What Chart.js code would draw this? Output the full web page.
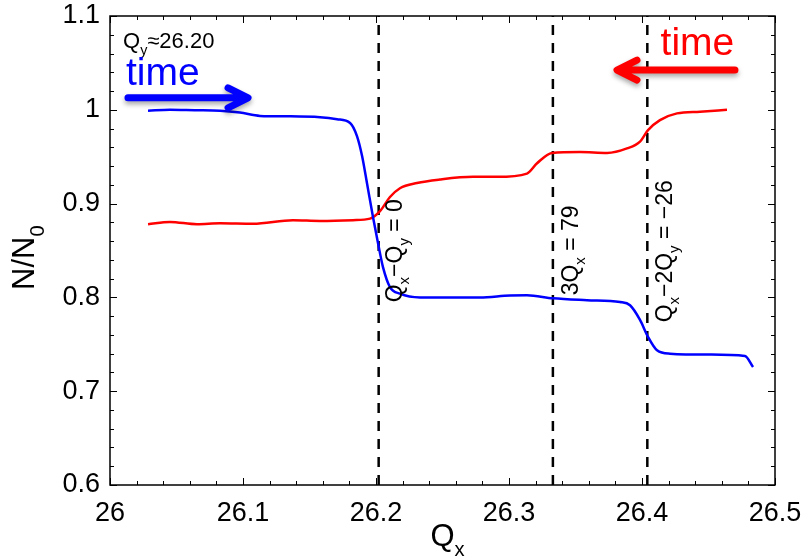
<!DOCTYPE html>
<html>
<head>
<meta charset="utf-8">
<script src="https://cdn.jsdelivr.net/npm/chart.js@4/dist/chart.umd.min.js"></script>
<style>
  html, body { margin: 0; padding: 0; background: #fff; }
  #wrap { width: 804px; height: 558px; }
</style>
</head>
<body>
<div id="wrap"><canvas id="chart" width="804" height="558"></canvas></div>
<script>
// Beam survival N/N0 vs horizontal tune Qx (two scan directions)
const blueQx = [26.0286, 26.0451, 26.0639, 26.0827, 26.0977, 26.1128, 26.1353, 26.1579, 26.1707, 26.1805,
                26.1857, 26.1895, 26.1932, 26.1977, 26.2015, 26.2053, 26.2105, 26.2180, 26.2331, 26.2556,
                26.2782, 26.3008, 26.3135, 26.3331, 26.3586, 26.3835, 26.3910, 26.3985, 26.4045, 26.4113,
                26.4211, 26.4511, 26.4774, 26.4835];
const blueN  = [0.999, 1.000, 0.9995, 0.999, 0.997, 0.9935, 0.993, 0.992, 0.990, 0.986,
                0.972, 0.951, 0.922, 0.886, 0.858, 0.832, 0.811, 0.804, 0.800, 0.800,
                0.800, 0.802, 0.8022, 0.799, 0.797, 0.795, 0.7916, 0.776, 0.758, 0.7436,
                0.740, 0.739, 0.7375, 0.7257];

const redQx = [26.0286, 26.0451, 26.0654, 26.0827, 26.1075, 26.1376, 26.1579, 26.1827, 26.1955, 26.2030,
               26.2105, 26.2180, 26.2308, 26.2481, 26.2729, 26.2910, 26.3135, 26.3211, 26.3323, 26.3534,
               26.3737, 26.3887, 26.3985, 26.4045, 26.4135, 26.4263, 26.4436, 26.4639];
const redN  = [0.878, 0.8805, 0.878, 0.879, 0.8785, 0.8823, 0.8815, 0.8823, 0.884, 0.892,
               0.907, 0.9164, 0.922, 0.9257, 0.9285, 0.9285, 0.932, 0.943, 0.954, 0.955,
               0.954, 0.9588, 0.966, 0.9783, 0.989, 0.9962, 0.998, 1.000];

// resonance lines: Qx-Qy=0, 3Qx=79, Qx-2Qy=-26
const resonanceQx = [26.202, 26.333, 26.404];

const xTickValues = [26, 26.1, 26.2, 26.3, 26.4, 26.5];
const xTickLabels = ['26', '26.1', '26.2', '26.3', '26.4', '26.5'];
const yTickValues = [0.6, 0.7, 0.8, 0.9, 1.0, 1.1];
const yTickLabels = ['0.6', '0.7', '0.8', '0.9', '1', '1.1'];

const FONT = "'Liberation Sans', Arial, Helvetica, sans-serif";

function toPoints(xs, ys) {
    return xs.map((x, i) => ({ x: x, y: ys[i] }));
}

const datasets = [
    {
        label: 'scan up', data: toPoints(blueQx, blueN),
        borderColor: '#0000ff', borderWidth: 2.5, pointRadius: 0,
        cubicInterpolationMode: 'monotone'
    },
    {
        label: 'scan down', data: toPoints(redQx, redN),
        borderColor: '#ff0000', borderWidth: 2.5, pointRadius: 0,
        cubicInterpolationMode: 'monotone'
    }
];
resonanceQx.forEach(q => {
    datasets.push({
        label: 'res ' + q,
        data: [{ x: q, y: yTickValues[0] }, { x: q, y: yTickValues[yTickValues.length - 1] }],
        borderColor: '#000', borderWidth: 2.5, borderDash: [10, 8], pointRadius: 0
    });
});

// text with subscripts, optionally rotated
function drawRich(ctx, parts, x, y, size, color, angle, align) {
    ctx.save();
    ctx.translate(x, y);
    ctx.rotate(angle || 0);
    ctx.fillStyle = color;
    ctx.textBaseline = 'alphabetic';
    ctx.textAlign = 'left';
    let w = 0;
    parts.forEach(p => {
        ctx.font = (p.sub ? size * 0.65 : size) + 'px ' + FONT;
        w += ctx.measureText(p.t).width;
    });
    let cx = align === 'center' ? -w / 2 : 0;
    parts.forEach(p => {
        const s = p.sub ? size * 0.65 : size;
        ctx.font = s + 'px ' + FONT;
        ctx.fillText(p.t, cx, p.sub ? size * 0.32 : 0);
        cx += ctx.measureText(p.t).width;
    });
    ctx.restore();
}

function drawArrow(ctx, x1, x2, y, color) {
    const dir = Math.sign(x2 - x1);
    ctx.save();
    ctx.strokeStyle = color;
    ctx.lineWidth = 7;
    ctx.lineCap = 'round';
    ctx.lineJoin = 'round';
    ctx.shadowColor = 'rgba(0,0,0,0.35)';
    ctx.shadowBlur = 5;
    ctx.shadowOffsetY = 3;
    ctx.beginPath();
    ctx.moveTo(x1, y);
    ctx.lineTo(x2 - dir * 4, y);
    ctx.moveTo(x2 - dir * 20, y - 10);
    ctx.lineTo(x2, y);
    ctx.lineTo(x2 - dir * 20, y + 10);
    ctx.stroke();
    ctx.restore();
}

const decorations = {
    id: 'decorations',
    afterDraw(chart) {
        const ctx = chart.ctx;
        const a = chart.chartArea;
        const xs = chart.scales.x, ys = chart.scales.y;

        // frame
        ctx.save();
        ctx.strokeStyle = '#000';
        ctx.lineWidth = 1.5;
        ctx.strokeRect(a.left, a.top, a.right - a.left, a.bottom - a.top);

        // inward ticks on all four sides, minor every 0.02
        ctx.lineWidth = 1;
        ctx.beginPath();
        for (let i = 0; i <= 25; i++) {
            const len = i % 5 === 0 ? 7 : 4;
            const px = Math.round(xs.getPixelForValue(26 + i * 0.02)) + 0.5;
            ctx.moveTo(px, a.bottom); ctx.lineTo(px, a.bottom - len);
            ctx.moveTo(px, a.top); ctx.lineTo(px, a.top + len);
            const py = Math.round(ys.getPixelForValue(0.6 + i * 0.02)) + 0.5;
            ctx.moveTo(a.left, py); ctx.lineTo(a.left + len, py);
            ctx.moveTo(a.right, py); ctx.lineTo(a.right - len, py);
        }
        ctx.stroke();
        ctx.restore();

        // axis titles
        drawRich(ctx, [{ t: 'Q' }, { t: 'x', sub: true }], (a.left + a.right) / 2 + 5, 546, 31, '#000', 0, 'center');
        drawRich(ctx, [{ t: 'N/N' }, { t: '0', sub: true }], 34, 290, 31, '#000', -Math.PI / 2, 'left');

        const X = v => xs.getPixelForValue(v);
        const Y = v => ys.getPixelForValue(v);

        // tune label and scan direction markers
        drawRich(ctx, [{ t: 'Q' }, { t: 'y', sub: true }, { t: '\u224826.20' }], X(26.0098), Y(1.0658), 22, '#000', 0, 'left');
        drawRich(ctx, [{ t: 'time' }], X(26.0120), Y(1.0264), 39, '#0000ff', 0, 'left');
        drawArrow(ctx, X(26.0135), X(26.1038), Y(1.0128), '#0000ff');
        drawRich(ctx, [{ t: 'time' }], X(26.414), Y(1.0584), 39, '#ff0000', 0, 'left');
        drawArrow(ctx, X(26.4699), X(26.3812), Y(1.0424), '#ff0000');

        // resonance labels (rotated)
        const up = -Math.PI / 2;
        drawRich(ctx, [{ t: 'Q' }, { t: 'x', sub: true }, { t: '\u2212Q' }, { t: 'y', sub: true }, { t: ' = 0' }],
            X(26.2195), Y(0.7948), 23, '#000', up, 'left');
        drawRich(ctx, [{ t: '3Q' }, { t: 'x', sub: true }, { t: ' = 79' }],
            X(26.3519), Y(0.8022), 23, '#000', up, 'left');
        drawRich(ctx, [{ t: 'Q' }, { t: 'x', sub: true }, { t: '\u22122Q' }, { t: 'y', sub: true }, { t: ' = \u221226' }],
            X(26.4226), Y(0.7734), 23, '#000', up, 'left');
    }
};

new Chart(document.getElementById('chart'), {
    type: 'scatter',
    data: { datasets: datasets },
    options: {
        responsive: false,
        animation: false,
        showLine: true,
        layout: { padding: { top: 16, right: 29, left: 0, bottom: 0 } },
        plugins: { legend: { display: false }, tooltip: { enabled: false } },
        scales: {
            x: {
                type: 'linear', min: 26, max: 26.5,
                grid: { display: false, drawTicks: false },
                border: { display: false },
                ticks: {
                    padding: 12, color: '#000',
                    font: { family: FONT, size: 27 },
                    callback: (v, i) => xTickLabels[i]
                },
                afterBuildTicks: s => { s.ticks = xTickValues.map(v => ({ value: v })); },
                afterFit: s => { s.height = 73; s.paddingLeft = 0; s.paddingRight = 0; }
            },
            y: {
                type: 'linear', min: 0.6, max: 1.1,
                grid: { display: false, drawTicks: false },
                border: { display: false },
                ticks: {
                    padding: 10, color: '#000',
                    font: { family: FONT, size: 27 },
                    callback: (v, i) => yTickLabels[i]
                },
                afterBuildTicks: s => { s.ticks = yTickValues.map(v => ({ value: v })); },
                afterFit: s => { s.width = 110; s.paddingTop = 0; s.paddingBottom = 0; }
            }
        }
    },
    plugins: [decorations]
});
</script>
</body>
</html>
